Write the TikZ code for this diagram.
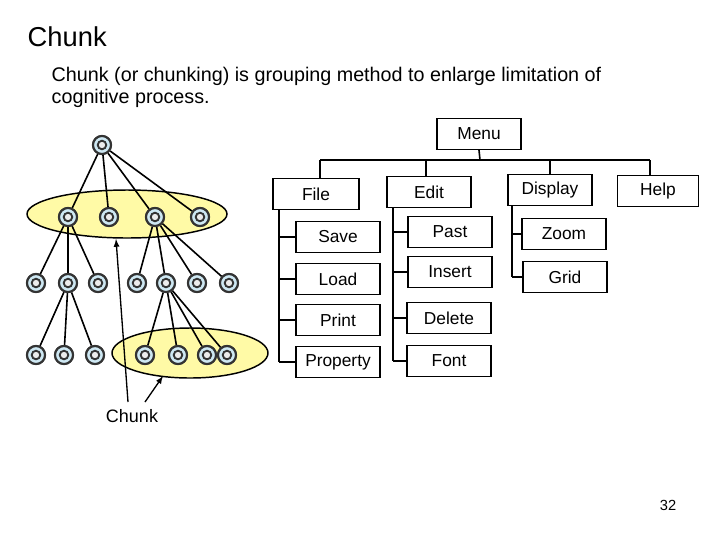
\documentclass[tikz,border=0pt]{standalone}
\usepackage{fontspec}
\setmainfont{Liberation Sans}
\begin{document}
\begin{tikzpicture}[x=0.75pt,y=-0.75pt,
  box/.style={draw,line width=1.1pt,minimum width=63pt,minimum height=23pt,inner sep=0pt,font=\fontsize{13}{15}\selectfont},
  nd/.style={circle,draw=black!80,line width=1.6pt,fill=gray!35!cyan!25,minimum size=13.5pt,inner sep=0pt,
    path picture={\draw[line width=1.4pt,fill=gray!15] (path picture bounding box.center) circle (3.2pt);}},
  ln/.style={line width=1.2pt},
  chk/.style={draw=black,line width=1.1pt,fill=yellow!35},
  arr/.style={-latex,line width=1pt}]
\useasboundingbox (0,0) rectangle (720,540);
\node[anchor=west,font=\fontsize{20.5}{22}\selectfont] (title) at (23,37) {Chunk};
\node[anchor=west,font=\fontsize{14.8}{17}\selectfont] (p1) at (47,76) {Chunk (or chunking) is grouping method to enlarge limitation of};
\node[anchor=west,font=\fontsize{14.8}{17}\selectfont] (p2) at (47,98) {cognitive process.};
% chunks
\draw[chk] (127,214) ellipse (100 and 24);
\draw[chk] (190,353) ellipse (78 and 25);
% tree nodes
\node[nd] (r) at (102,145) {};
\foreach \x [count=\i] in {68,109,155,200} \node[nd] (a\i) at (\x,217) {};
\foreach \x [count=\i] in {36,68,98,137,166,197,229} \node[nd] (b\i) at (\x,283) {};
\foreach \x [count=\i] in {36,64,95,145,178,207,227} \node[nd] (c\i) at (\x,355) {};
\foreach \i in {1,...,4} \draw[ln] (r) -- (a\i);
\foreach \i in {1,2,3} \draw[ln] (a1) -- (b\i);
\foreach \i in {4,...,7} \draw[ln] (a3) -- (b\i);
\foreach \i in {1,2,3} \draw[ln] (b2) -- (c\i);
\foreach \i in {4,...,7} \draw[ln] (b5) -- (c\i);
\foreach \i in {1,...,7} \node[nd] at (b\i) {};
\foreach \i in {1,...,4} \node[nd] at (a\i) {};
\foreach \i in {1,...,7} \node[nd] at (c\i) {};
\node[nd] at (r) {};
\node[font=\fontsize{13.5}{15}\selectfont] (chunk) at (132,416) {Chunk};
\coordinate (s1) at (128,402);
\coordinate (s2) at (145,402);
\coordinate (e1) at (116,239);
\coordinate (e2) at (163,376);
\draw[arr] (s1) -- (e1);
\draw[arr] (s2) -- (e2);
% menu
\node[box] (menu) at (479,134) {Menu};
\node[box,minimum width=64.5pt] (file) at (316,194) {File};
\node[box] (edit) at (429,192) {Edit};
\node[box] (disp) at (550,190) {Display};
\node[box,minimum width=61pt] (help) at (658,191) {Help};
\node[box] (save) at (338,237) {Save};
\node[box] (load) at (338,279) {Load};
\node[box] (print) at (338,320) {Print};
\node[box] (prop) at (338,362) {Property};
\node[box] (past) at (450,232) {Past};
\node[box] (ins) at (450,272) {Insert};
\node[box] (del) at (449,318) {Delete};
\node[box] (font) at (449,361) {Font};
\node[box] (zoom) at (564,234) {Zoom};
\node[box] (grid) at (565,277) {Grid};
\draw[ln] (menu.south) -- (480,160);
\draw[ln] (320,160) -- (650,160);
\draw[ln] (320,160) -- (320,178);
\draw[ln] (426,160) -- (edit.north-|426,0);
\draw[ln] (550,160) -- (disp.north);
\draw[ln] (650,160) -- (help.north-|650,0);
\draw[ln] (file.south-|279,0) -- (prop.west-|279,0);
\foreach \n in {save,load,print,prop} \draw[ln] (\n.west-|279,0) -- (\n.west);
\draw[ln] (edit.south-|393,0) -- (font.west-|393,0);
\foreach \n in {past,ins,del,font} \draw[ln] (\n.west-|393,0) -- (\n.west);
\draw[ln] (disp.south-|512,0) -- (grid.west-|512,0);
\foreach \n in {zoom,grid} \draw[ln] (\n.west-|512,0) -- (\n.west);
\node[font=\fontsize{11}{13}\selectfont] (pg) at (668,505) {32};
\end{tikzpicture}
\end{document}
